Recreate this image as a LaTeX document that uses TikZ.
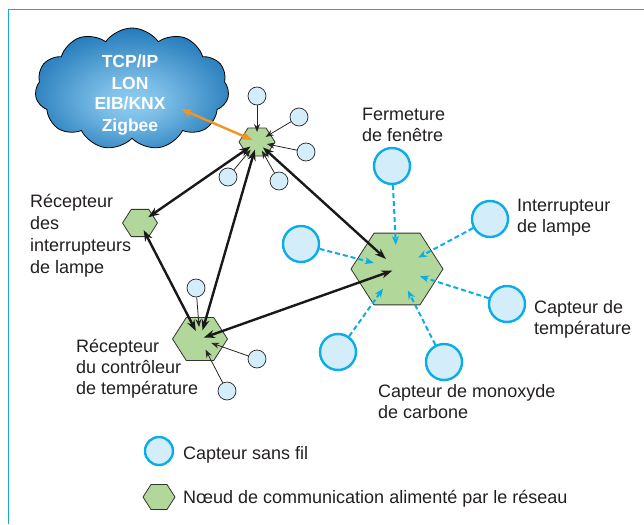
\documentclass[tikz,border=0pt]{standalone}
\usepackage{fontspec}
\setmainfont{Liberation Sans}
\usetikzlibrary{shapes.geometric,shapes.symbols,arrows.meta}
\definecolor{framecol}{HTML}{1AA3DD}
\definecolor{cyanline}{HTML}{0AADE8}
\definecolor{sensorfill}{HTML}{D4EDFA}
\definecolor{hexfill}{HTML}{B2D79A}
\definecolor{txt}{HTML}{231F20}
\definecolor{orangearrow}{HTML}{F39324}
\definecolor{cloudin}{HTML}{8FCDF1}
\definecolor{cloudout}{HTML}{0865AC}
\pgfdeclareradialshading{cloudshade}{\pgfpoint{0bp}{-6bp}}{color(0bp)=(cloudin); color(8bp)=(cloudin!85!cloudout); color(34bp)=(cloudout); color(50bp)=(cloudout)}
\tikzset{
  hexnode/.style={regular polygon, regular polygon sides=6, draw=black!80, line width=0.8pt,
    fill=hexfill, inner sep=0pt, yscale=0.9, transform shape},
  smallsensor/.style={circle, draw=black!85, line width=0.7pt, fill=sensorfill,
    minimum size=18pt, inner sep=0pt},
  bigsensor/.style={circle, draw=cyanline, line width=2.4pt, fill=sensorfill,
    minimum size=36pt, inner sep=0pt},
  thickarrow/.style={line width=2.4pt, draw=black!90,
    {Stealth[length=11pt,width=8pt]}-{Stealth[length=11pt,width=8pt]}},
  thinarrow/.style={line width=0.8pt, draw=black!85, -{Stealth[length=8pt,width=6pt]}},
  dasharrow/.style={line width=2pt, draw=cyanline, dash pattern=on 5pt off 3pt,
    -{Stealth[length=9pt,width=7pt]}, shorten >=24pt},
  lbl/.style={font=\fontsize{18}{21}\selectfont, text=txt, align=left, inner sep=0pt, anchor=base west},
}
\begin{document}
\begin{tikzpicture}[x=1pt,y=-1pt]
\useasboundingbox (0,0) rectangle (644,524);
\draw[framecol, line width=1.6pt] (8.5,524) -- (8.5,9.5) -- (644,9.5);

% cloud
\node[cloud, cloud puffs=11, cloud puff arc=110, aspect=1.6, minimum width=194pt, minimum height=122pt,
  draw=black, line width=0.8pt, shading=cloudshade] (cloud) at (132,89) {};
\node[font=\fontsize{17.5}{21}\selectfont\bfseries, text=white, align=center, inner sep=0pt, anchor=base]
  (cloudtxt) at (130,131) {TCP/IP\\LON\\EIB/KNX\\Zigbee};

% hexagons
\node[hexnode, minimum size=36pt] (hub) at (257,142) {};
\node[hexnode, minimum size=35pt] (lhex) at (140,223) {};
\node[hexnode, minimum size=55pt] (bhex) at (200,339) {};
\node[hexnode, minimum size=92pt] (big) at (397,269) {};

% small sensors
\node[smallsensor] (s1) at (257,96) {};
\node[smallsensor] (s2) at (299,117) {};
\node[smallsensor] (s3) at (306,152) {};
\node[smallsensor] (s4) at (228,177) {};
\node[smallsensor] (s5) at (279,181) {};
\node[smallsensor] (t1) at (196,288) {};
\node[smallsensor] (t2) at (257,359) {};
\node[smallsensor] (t3) at (227,391) {};

% big sensors
\node[bigsensor] (b1) at (392,166) {};
\node[bigsensor] (b2) at (490,219) {};
\node[bigsensor] (b3) at (507,304) {};
\node[bigsensor] (b4) at (444,362) {};
\node[bigsensor] (b5) at (338,352) {};
\node[bigsensor] (b6) at (301,244) {};

% thin arrows
\foreach \s in {s1,s2,s3,s4,s5}
  \draw[thinarrow, shorten >=10pt] (\s) -- (hub.center);
\foreach \s in {t1,t2,t3}
  \draw[thinarrow, shorten >=12pt] (\s) -- (bhex.center);

% dashed arrows
\foreach \s in {b1,b2,b3,b4,b5,b6}
  \draw[dasharrow] (\s) -- (big.center);

% thick arrows
\draw[thickarrow, shorten <=8pt, shorten >=10pt] (hub.center) -- (lhex.center);
\draw[thickarrow, shorten <=8pt, shorten >=9pt] (hub.center) -- (bhex.center);
\draw[thickarrow, shorten <=8pt, shorten >=15pt] (hub.center) -- (big.center);
\draw[thickarrow, shorten <=8pt, shorten >=9pt] (lhex.center) -- (bhex.center);
\draw[thickarrow, shorten <=4pt, shorten >=5pt] (bhex.center) -- (big.center);

% orange link
\coordinate (cloudtip) at (181,109);
\draw[line width=2.4pt, orangearrow, {Stealth[length=11pt,width=8pt]}-{Stealth[length=11pt,width=8pt]}, shorten >=5pt]
  (cloudtip) -- (hub.center);

% labels (anchored at the baseline of the last line)
\node[lbl] (lfen) at (362,141) {Fermeture\\de fenêtre};
\node[lbl] (linter) at (517,232) {Interrupteur\\de lampe};
\node[lbl] (ltemp) at (534,334) {Capteur de\\température};
\node[lbl] (lco) at (378,418) {Capteur de monoxyde\\de carbone};
\node[lbl, font=\fontsize{18}{22}\selectfont] (lrl) at (30,273) {Récepteur\\des\\interrupteurs\\de lampe};
\node[lbl] (lrt) at (76,394) {Récepteur\\du contrôleur\\de température};

% legend
\node[bigsensor, minimum size=28pt] (legs) at (159,451) {};
\node[hexnode, minimum size=32pt] (legh) at (159,497) {};
\node[lbl] (legst) at (183,459) {Capteur sans fil};
\node[lbl] (leght) at (183,503) {Nœud de communication alimenté par le réseau};
\end{tikzpicture}
\end{document}
